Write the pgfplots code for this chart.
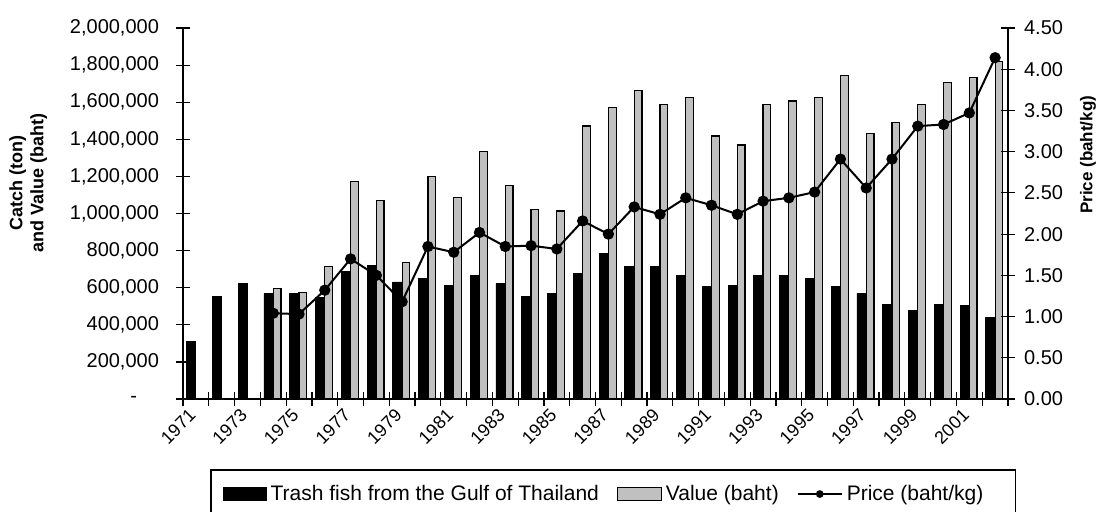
\documentclass[border=0pt]{standalone}
\usepackage{pgfplots}
\pgfplotsset{compat=1.18}
\usepackage{fontspec}
\setmainfont{Liberation Sans}
\definecolor{barGray}{RGB}{192,192,192}
\begin{document}
\begin{tikzpicture}
\begin{axis}[
  name=left,
  at={(0pt,0pt)}, anchor=south west,
  scale only axis, width=412.5pt, height=185.5pt,
  xmin=-0.5, xmax=31.5, ymin=0, ymax=2000000,
  axis y line*=left, axis x line*=bottom,
  axis line style={line width=0.6pt},
  tick style={line width=0.6pt, black},
  tick align=center, major tick length=7pt, minor tick length=7pt,
  xtick={0,2,...,30},
  xticklabels={1971,1973,1975,1977,1979,1981,1983,1985,1987,1989,1991,1993,1995,1997,1999,2001},
  major x tick style={draw=none},
  minor xtick={-0.5,0.5,...,31.5},
  xticklabel style={rotate=45, anchor=east, font=\fontsize{9}{10}\selectfont, yshift=-1pt, xshift=0pt},
  ytick={0,200000,400000,600000,800000,1000000,1200000,1400000,1600000,1800000,2000000},
  yticklabels={{-\hspace*{11pt}},{200,000},{400,000},{600,000},{800,000},{1,000,000},{1,200,000},{1,400,000},{1,600,000},{1,800,000},{2,000,000}},
  yticklabel style={font=\fontsize{10}{12}\selectfont, xshift=-5pt},
  scaled y ticks=false,
  ylabel={\bfseries\begin{tabular}{c}Catch (ton)\\and Value (baht)\end{tabular}},
  ylabel style={at={(axis description cs:-0.187,0.582)}, anchor=center, font=\fontsize{9}{10.5}\selectfont},
  clip=false,
]
\addplot[ybar, bar width=0.36, bar shift=-0.18, fill=black, draw=black, line width=0.4pt] coordinates {
(0,312000)(1,551000)(2,622000)(3,570000)(4,570000)(5,546000)(6,686000)(7,722000)
(8,631000)(9,651000)(10,614000)(11,668000)(12,624000)(13,551000)(14,570000)(15,678000)
(16,785000)(17,713000)(18,713000)(19,667000)(20,605000)(21,614000)(22,667000)(23,667000)
(24,649000)(25,605000)(26,570000)(27,512000)(28,476000)(29,512000)(30,505000)(31,440000)};
\addplot[ybar, bar width=0.30, bar shift=0.15, fill=barGray, draw=black, line width=0.6pt] coordinates {
(3,595000)(4,575000)(5,713000)(6,1171000)(7,1069000)(8,738000)(9,1198000)(10,1087000)
(11,1333000)(12,1152000)(13,1023000)(14,1013000)(15,1472000)(16,1572000)(17,1664000)
(18,1589000)(19,1624000)(20,1418000)(21,1369000)(22,1589000)(23,1606000)(24,1626000)
(25,1743000)(26,1432000)(27,1490000)(28,1589000)(29,1707000)(30,1734000)(31,1818000)};
\end{axis}
\begin{axis}[
  at={(0pt,0pt)}, anchor=south west,
  scale only axis, width=412.5pt, height=185.5pt,
  xmin=-0.5, xmax=31.5, ymin=0, ymax=4.5,
  axis y line*=right, axis x line=none,
  axis line style={line width=0.6pt},
  tick style={line width=0.6pt, black},
  tick align=center, major tick length=7pt,
  ytick={0,0.5,1,1.5,2,2.5,3,3.5,4,4.5},
  yticklabels={0.00,0.50,1.00,1.50,2.00,2.50,3.00,3.50,4.00,4.50},
  yticklabel style={font=\fontsize{10}{12}\selectfont, xshift=1pt},
  ylabel={\bfseries Price (baht/kg)},
  ylabel style={at={(axis description cs:1.097,0.658)}, anchor=center, font=\fontsize{8.5}{10.5}\selectfont},
  clip=false,
  legend columns=3,
  legend style={at={(0.0327,-0.189)}, anchor=north west, draw=black, line width=0.8pt,
    font=\fontsize{10.5}{12}\selectfont, inner xsep=6pt, inner ysep=5.5pt,
    /tikz/every even column/.append style={column sep=7pt}},
  legend cell align=left,
]
\addlegendimage{legend image code/.code={\draw[fill=black,draw=black,line width=0.4pt] (0pt,-3.25pt) rectangle (21.5pt,3.25pt);}}
\addlegendentry{Trash fish from the Gulf of Thailand}
\addlegendimage{legend image code/.code={\draw[fill=barGray,draw=black,line width=0.5pt] (0pt,-3.25pt) rectangle (22pt,3.25pt);}}
\addlegendentry{Value (baht)}
\addplot[black, line width=1pt, mark=*, mark size=2.3pt,
  legend image code/.code={\draw[black, line width=1pt, mark=*, mark size=1.4pt, mark repeat=2, mark phase=2] plot coordinates {(0pt,0pt)(11pt,0pt)(22pt,0pt)};}] coordinates {
(3,1.04)(4,1.03)(5,1.32)(6,1.70)(7,1.50)(8,1.18)(9,1.85)(10,1.78)(11,2.02)(12,1.85)
(13,1.86)(14,1.82)(15,2.16)(16,2.00)(17,2.33)(18,2.24)(19,2.44)(20,2.35)(21,2.24)
(22,2.40)(23,2.44)(24,2.51)(25,2.91)(26,2.56)(27,2.91)(28,3.31)(29,3.33)(30,3.47)(31,4.14)};
\addlegendentry{Price (baht/kg)\hspace*{8pt}}
\end{axis}
\pgfresetboundingbox
\useasboundingbox (-91.5pt,-56pt) rectangle (460pt,199.5pt);
\end{tikzpicture}
\end{document}
